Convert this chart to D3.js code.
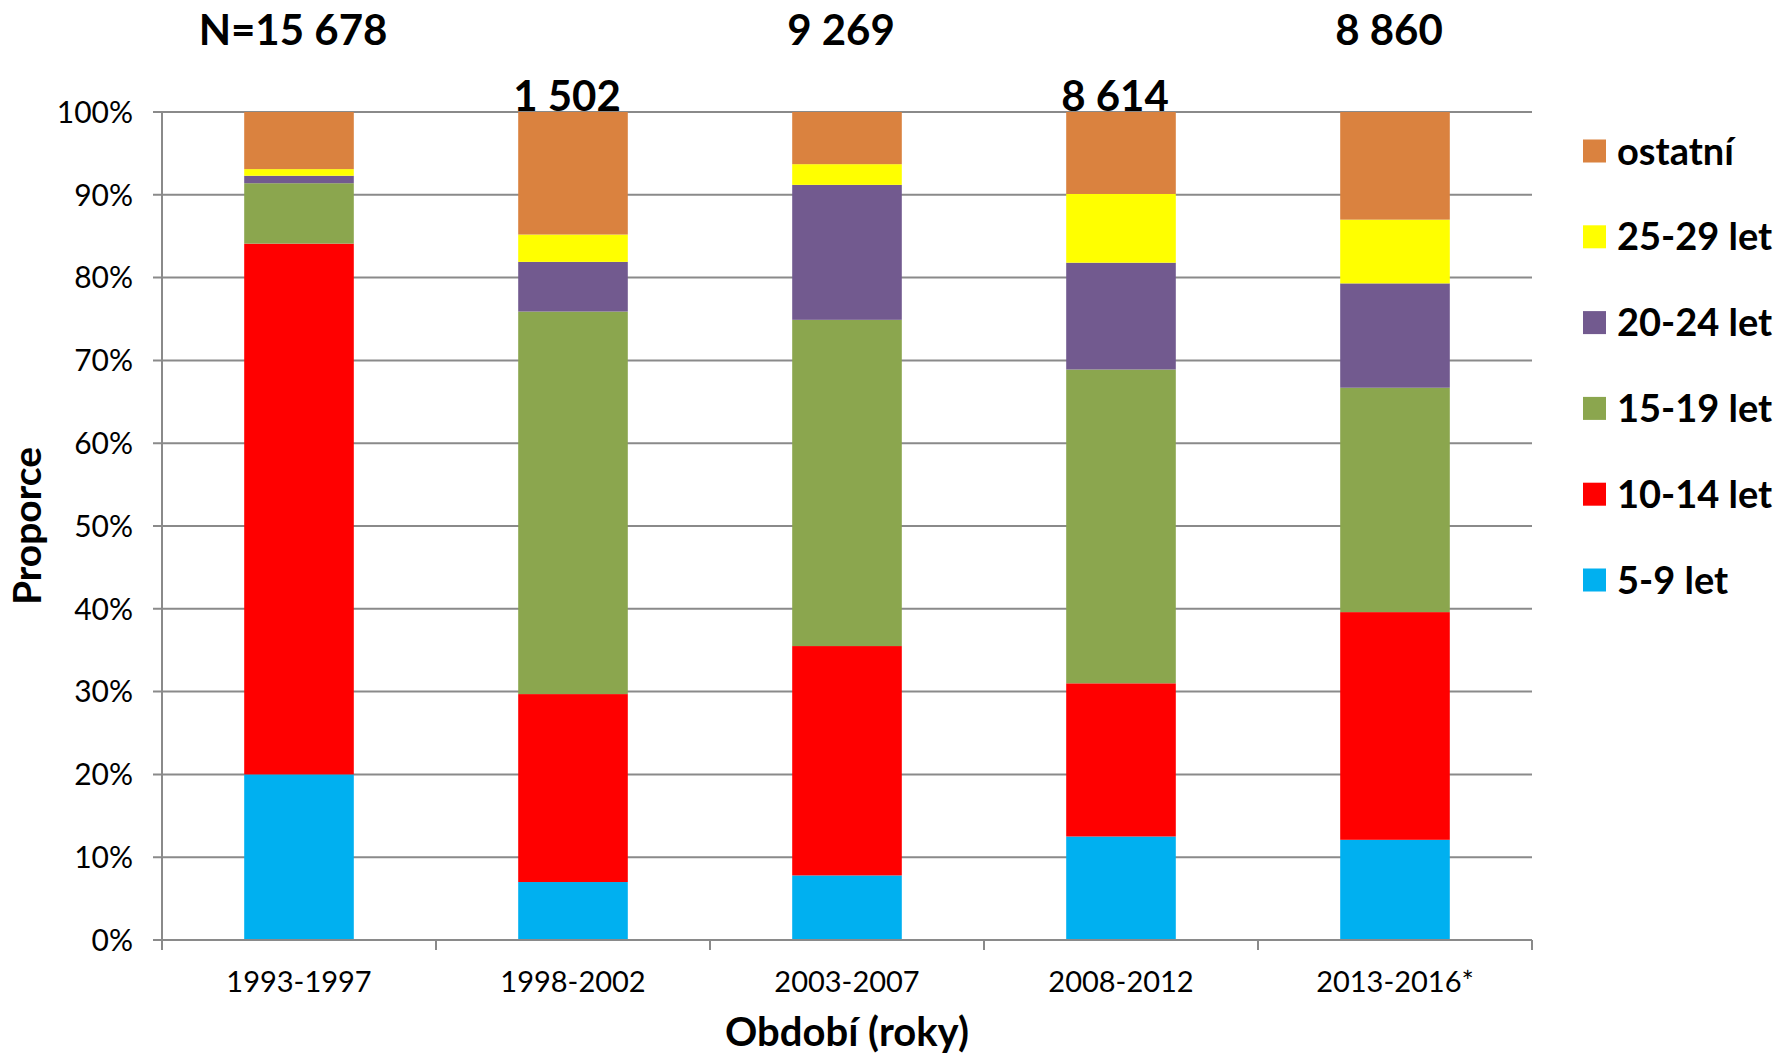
<!DOCTYPE html>
<html><head><meta charset="utf-8">
<script src="https://cdn.jsdelivr.net/npm/d3@7"></script>
<style>html,body{margin:0;padding:0;background:#fff;}svg{display:block;}</style>
</head><body>
<svg id="chart" width="1777" height="1055"></svg>
<script>
const categories = ["1993-1997","1998-2002","2003-2007","2008-2012","2013-2016*"];
const nLabels = ["N=15 678","1 502","9 269","8 614","8 860"];
const seriesNames = ["5-9 let","10-14 let","15-19 let","20-24 let","25-29 let","ostatní"];
const s5_9   = [20.0, 7.0, 7.8, 12.5, 12.1];
const s10_14 = [64.1, 22.7, 27.7, 18.5, 27.5];
const s15_19 = [7.3, 46.2, 39.4, 37.9, 27.1];
const s20_24 = [0.9, 6.0, 16.3, 12.9, 12.6];
const s25_29 = [0.8, 3.3, 2.5, 8.3, 7.7];
const sOther = [6.9, 14.8, 6.3, 9.9, 13.0];
const colors = ["#00B0F0","#FF0000","#8BA64E","#725A8F","#FFFF00","#DA823F"];
const yTicks = [0,10,20,30,40,50,60,70,80,90,100];

const allSeries = [s5_9, s10_14, s15_19, s20_24, s25_29, sOther];
const rows = categories.map((c,i)=>{
  const r = {cat:c};
  seriesNames.forEach((s,j)=> r[s]=allSeries[j][i]);
  return r;
});

const svg = d3.select("#chart");
const m = {left:162, right:1532, top:112, bottom:940};
const font = "Lato, 'Open Sans', sans-serif";

const x = d3.scaleBand().domain(categories).range([m.left, m.right]).paddingInner(0.6).paddingOuter(0.3);
const xb = d3.scaleBand().domain(categories).range([m.left, m.right]);
const y = d3.scaleLinear().domain([0,100]).range([m.bottom, m.top]);

// gridlines
svg.append("g").selectAll("line").data(yTicks).join("line")
  .attr("x1", m.left-9).attr("x2", m.right)
  .attr("y1", d=>y(d)).attr("y2", d=>y(d))
  .attr("stroke","#8a8a8a").attr("stroke-width",2);

// stacked bars
const stack = d3.stack().keys(seriesNames)(rows);
svg.append("g").selectAll("g").data(stack).join("g")
  .attr("fill",(d,i)=>colors[i])
  .selectAll("rect").data(d=>d).join("rect")
  .attr("x", d=>x(d.data.cat))
  .attr("width", x.bandwidth())
  .attr("y", d=>y(d[1]))
  .attr("height", d=>y(d[0])-y(d[1]));

// y axis line
svg.append("line").attr("x1",m.left).attr("x2",m.left).attr("y1",m.top).attr("y2",m.bottom)
  .attr("stroke","#8a8a8a").attr("stroke-width",2);
// x axis line + ticks
svg.append("line").attr("x1",m.left-9).attr("x2",m.right).attr("y1",m.bottom).attr("y2",m.bottom)
  .attr("stroke","#8a8a8a").attr("stroke-width",2);
const bounds = categories.map(c=>xb(c)).concat([m.right]);
svg.append("g").selectAll("line").data(bounds).join("line")
  .attr("x1",d=>d).attr("x2",d=>d).attr("y1",m.bottom).attr("y2",m.bottom+10)
  .attr("stroke","#8a8a8a").attr("stroke-width",2);

// y tick labels
svg.append("g").selectAll("text").data(yTicks).join("text")
  .attr("x", 133).attr("y", d=>y(d)).attr("dy","0.36em")
  .attr("text-anchor","end").attr("font-family",font).attr("font-size",30)
  .text(d=>d+"%");

// x tick labels
svg.append("g").selectAll("text").data(categories).join("text")
  .attr("x", d=>xb(d)+xb.bandwidth()/2).attr("y", 992)
  .attr("text-anchor","middle").attr("font-family",font).attr("font-size",29)
  .text(d=>d);

// axis titles
svg.append("text").attr("x",(m.left+m.right)/2).attr("y",1046)
  .attr("text-anchor","middle").attr("font-family",font).attr("font-size",40).attr("font-weight","bold")
  .text("Období (roky)");
svg.append("text").attr("transform",`translate(41,${(m.top+m.bottom)/2}) rotate(-90)`)
  .attr("text-anchor","middle").attr("font-family",font).attr("font-size",39).attr("font-weight","bold")
  .text("Proporce");

// N labels (staggered)
svg.append("g").selectAll("text").data(nLabels).join("text")
  .attr("x",(d,i)=>xb(categories[i])+xb.bandwidth()/2-6)
  .attr("y",(d,i)=> i%2===0 ? 45 : 111)
  .attr("text-anchor","middle").attr("font-family",font).attr("font-size",42).attr("font-weight","bold")
  .text(d=>d);

// legend (top = ostatní)
const legendItems = seriesNames.map((s,i)=>({name:s,color:colors[i]})).reverse();
const lg = svg.append("g").selectAll("g").data(legendItems).join("g")
  .attr("transform",(d,i)=>`translate(1583,${151+i*85.8})`);
lg.append("rect").attr("x",0).attr("y",-11.5).attr("width",23).attr("height",23).attr("fill",d=>d.color);
lg.append("text").attr("x",34).attr("y",0).attr("dy","0.36em")
  .attr("font-family",font).attr("font-size",38).attr("font-weight","bold").text(d=>d.name);
</script>
</body></html>
